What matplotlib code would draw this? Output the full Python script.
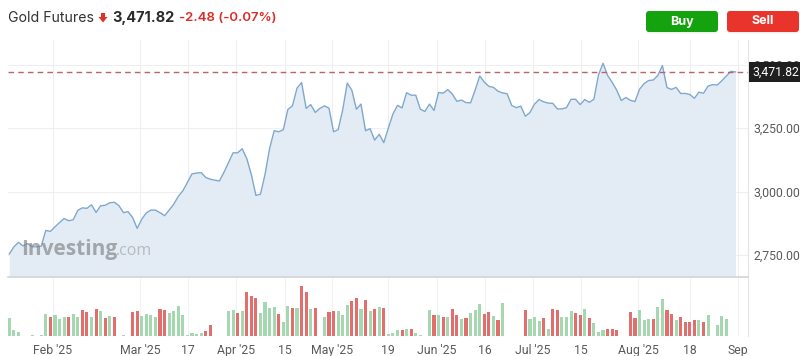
import matplotlib
matplotlib.use('Agg')
import matplotlib.pyplot as plt
import matplotlib.transforms as mtrans
from matplotlib.patches import FancyBboxPatch, Polygon

# ---------------- data ----------------
price = [2754, 2782, 2800, 2786, 2795, 2783, 2782, 2785, 2847, 2843,
         2861, 2878, 2894, 2885, 2889, 2926, 2936, 2934, 2948, 2918,
         2944, 2946, 2956, 2958, 2945, 2917, 2921, 2898, 2855, 2891,
         2916, 2927, 2927, 2917, 2905, 2927, 2950, 2981, 3003, 3036,
         3070, 3073, 3075, 3056, 3049, 3045, 3042, 3076, 3114, 3153,
         3153, 3169, 3130, 3067, 2985, 2990, 3068, 3170, 3240, 3236,
         3244, 3324, 3338, 3408, 3430, 3328, 3343, 3312, 3328, 3338,
         3329, 3236, 3244, 3322, 3428, 3400, 3325, 3345, 3240, 3248,
         3203, 3226, 3193, 3251, 3306, 3340, 3330, 3390, 3380, 3380,
         3325, 3316, 3345, 3320, 3391, 3388, 3402, 3385, 3356, 3361,
         3351, 3350, 3400, 3456, 3432, 3415, 3411, 3396, 3389, 3386,
         3340, 3331, 3337, 3297, 3312, 3345, 3363, 3354, 3349, 3348,
         3326, 3326, 3331, 3364, 3364, 3343, 3363, 3352, 3364, 3460,
         3506, 3458, 3431, 3400, 3359, 3371, 3360, 3355, 3404, 3426,
         3438, 3440, 3458, 3497, 3410, 3403, 3411, 3387, 3387, 3383,
         3368, 3392, 3388, 3416, 3422, 3420, 3437, 3456, 3474.30, 3471.82]

# volume (thousand contracts)
volume = [72, 24, 16, 0, 0, 3, 0, 3, 88, 76,
          84, 68, 76, 76, 88, 76, 104, 96, 76, 108,
          100, 72, 80, 76, 0, 3, 0, 96, 100, 80,
          88, 84, 76, 108, 104, 92, 100, 120, 84, 4,
          12, 8, 12, 20, 44, 0, 0, 0, 100, 104,
          92, 100, 176, 160, 152, 92, 136, 112, 116, 88,
          56, 120, 112, 112, 200, 176, 108, 112, 0, 76,
          96, 100, 100, 84, 124, 140, 152, 108, 144, 100,
          108, 116, 112, 8, 12, 24, 24, 28, 28, 12,
          3, 0, 104, 84, 84, 76, 76, 108, 84, 68,
          72, 92, 104, 128, 88, 96, 80, 64, 132, 0,
          0, 0, 0, 104, 68, 76, 60, 72, 28, 108,
          104, 76, 76, 100, 92, 84, 108, 72, 52, 16,
          24, 28, 28, 24, 0, 0, 96, 72, 104, 64,
          68, 68, 116, 148, 104, 88, 64, 76, 56, 56,
          64, 64, 56, 84, 2, 44, 80, 68, 0, 0]

# 1 = up day (green), 0 = down day (red)
vol_up = [1, 1, 1, 1, 1, 1, 1, 1, 1, 0,
          1, 1, 1, 0, 1, 1, 0, 0, 1, 0,
          1, 0, 1, 0, 1, 1, 1, 0, 0, 1,
          1, 1, 1, 0, 0, 1, 1, 1, 1, 1,
          1, 1, 1, 0, 0, 1, 1, 1, 1, 1,
          0, 1, 0, 0, 0, 1, 1, 1, 1, 0,
          1, 1, 0, 1, 0, 0, 1, 0, 1, 1,
          0, 0, 1, 1, 1, 0, 0, 1, 0, 1,
          0, 1, 0, 1, 1, 1, 0, 1, 0, 1,
          1, 1, 1, 0, 1, 0, 1, 0, 0, 1,
          0, 1, 1, 1, 0, 0, 1, 0, 1, 1,
          1, 1, 1, 0, 1, 1, 1, 0, 1, 0,
          0, 1, 1, 1, 0, 0, 1, 0, 1, 1,
          1, 0, 0, 0, 1, 1, 0, 0, 1, 1,
          1, 0, 1, 1, 0, 0, 1, 0, 0, 0,
          0, 1, 0, 1, 1, 1, 1, 1, 1, 1]

x_labels = ["Feb '25", "Mar '25", "17", "Apr '25", "15", "May '25", "19",
            "Jun '25", "16", "Jul '25", "15", "Aug '25", "18", "Sep"]
y_ticks = [2750, 3000, 3250, 3500]
title = "Gold Futures"
last_price = 3471.82
change = -2.48
change_pct = -0.07

# ---------------- layout ----------------
W, H = 800, 356
fig = plt.figure(figsize=(W / 100, H / 100), dpi=100)
fig.patch.set_facecolor('white')
plt.rcParams['font.family'] = ['Roboto', 'DejaVu Sans']

def fx(px):
    return px / W

def fy(py):
    return 1 - py / H

L, R = 8, 748
ax = fig.add_axes([fx(L), fy(277), fx(R) - fx(L), fy(40) - fy(277)])
axv = fig.add_axes([fx(L), fy(336), fx(R) - fx(L), fy(278) - fy(336)])

n = len(price)
idx = list(range(n))
tick_pos = [9.57, 28.6, 39.1, 49.7, 60.4, 70.7, 82.9, 93.6, 104.2, 114.7,
            125.2, 137.7, 149.1, 159.6]
xlim = (-0.28, 161.74)

# ---------------- price pane ----------------
ybot, ytop = 2663.3, 3597.8
ax.fill_between(idx, price, ybot, color='#e3ecf5', lw=0, zorder=1)
ax.plot(idx, price, color='#7fa8cc', lw=1.0, zorder=3)
ax.axhline(last_price, color='#b86468', lw=1.0, ls=(0, (4, 3)), zorder=4)
ax.set_xlim(*xlim)
ax.set_ylim(ybot, ytop)
ax.set_yticks(y_ticks)
ax.set_yticklabels([f"{v:,.2f}" for v in y_ticks])
ax.yaxis.tick_right()
ax.tick_params(axis='y', length=0, pad=4, labelsize=8.8, labelcolor='#5a5a5a')
ax.set_xticks(tick_pos)
ax.tick_params(axis='x', length=0, labelbottom=False)
ax.grid(True, color='#efefef', lw=0.8, zorder=0)
ax.set_axisbelow(True)
for s in ['top', 'left']:
    ax.spines[s].set_visible(False)
ax.spines['right'].set_color('#e4e4e4')
ax.spines['bottom'].set_color('#d4d4d4')
ax.spines['bottom'].set_linewidth(1.2)

# last price tag (covers the lower half of the 3,500.00 label as in the original)
trans = mtrans.blended_transform_factory(ax.transAxes, ax.transData)
ax.text(1.0 + 4.5 / (R - L), last_price, f"{last_price:,.2f}", transform=trans,
        ha='left', va='center', color='white', fontsize=8.8, zorder=10, clip_on=False,
        bbox=dict(boxstyle='square,pad=0.3', fc='#1f1f1f', ec='none'))

# watermark
ax.text(0.018, 0.115, "Investing", transform=ax.transAxes, fontsize=15, fontweight='bold',
        color='#808080', alpha=0.65, ha='left', va='center', zorder=5,
        family=['Open Sans', 'DejaVu Sans'])
ax.text(0.146, 0.108, ".com", transform=ax.transAxes, fontsize=11.5,
        color='#9a9a9a', alpha=0.6, ha='left', va='center', zorder=5,
        family=['Open Sans', 'DejaVu Sans'])

# ---------------- volume pane ----------------
colors = ['#a5d8b0' if u else '#e26e6e' for u in vol_up]
axv.bar(idx, volume, width=0.68, color=colors, lw=0, zorder=2)
axv.set_xlim(*xlim)
axv.set_ylim(0, 232)
axv.set_yticks([])
axv.set_xticks(tick_pos)
axv.set_xticklabels(x_labels)
axv.tick_params(axis='x', length=0, pad=6, labelsize=8.8, labelcolor='#5a5a5a')
axv.grid(True, axis='x', color='#f2f2f2', lw=0.8, zorder=0)
axv.set_axisbelow(True)
for s in ['top', 'left', 'bottom']:
    axv.spines[s].set_visible(False)
axv.spines['right'].set_color('#e4e4e4')

# ---------------- header ----------------
ident = mtrans.IdentityTransform()
hy = fy(18)
fig.text(fx(8), hy, title, fontsize=10.2, color='#333333', ha='left', va='center',
         family=['Inter', 'DejaVu Sans'])
# down arrow icon
ax_cx, top_y = 103, H - 13
arrow = Polygon([(ax_cx - 2, top_y), (ax_cx + 2, top_y), (ax_cx + 2, top_y - 4),
                 (ax_cx + 4.5, top_y - 4), (ax_cx, top_y - 9.5), (ax_cx - 4.5, top_y - 4),
                 (ax_cx - 2, top_y - 4)], closed=True, fc='#e0302a', ec='none',
                transform=ident)
fig.patches.append(arrow)
fig.text(fx(112), hy, f"{last_price:,.2f}", fontsize=10.5, fontweight='bold',
         color='#2b2b2b', ha='left', va='center', family=['Inter', 'DejaVu Sans'])
fig.text(fx(179), hy, f"{change:.2f} ({change_pct:.2f}%)", fontsize=9.5,
         fontweight='semibold', color='#dc2b24', ha='left', va='center',
         family=['Inter', 'DejaVu Sans'])

# buttons
for x0, label, col in [(646, 'Buy', '#14a20f'), (727, 'Sell', '#e8342b')]:
    shadow = FancyBboxPatch((x0, H - 33.5), 72, 21, boxstyle='round,pad=0,rounding_size=3',
                            fc='#000000', alpha=0.06, ec='none', transform=ident)
    fig.patches.append(shadow)
    btn = FancyBboxPatch((x0, H - 32), 72, 21, boxstyle='round,pad=0,rounding_size=3',
                         fc=col, ec='none', transform=ident)
    fig.patches.append(btn)
    fig.text(fx(x0 + 36), fy(21.5), label, fontsize=9, fontweight='bold', color='white',
             ha='center', va='center', family=['Inter', 'DejaVu Sans'])

fig.savefig('out.png', dpi=100, facecolor='white')
